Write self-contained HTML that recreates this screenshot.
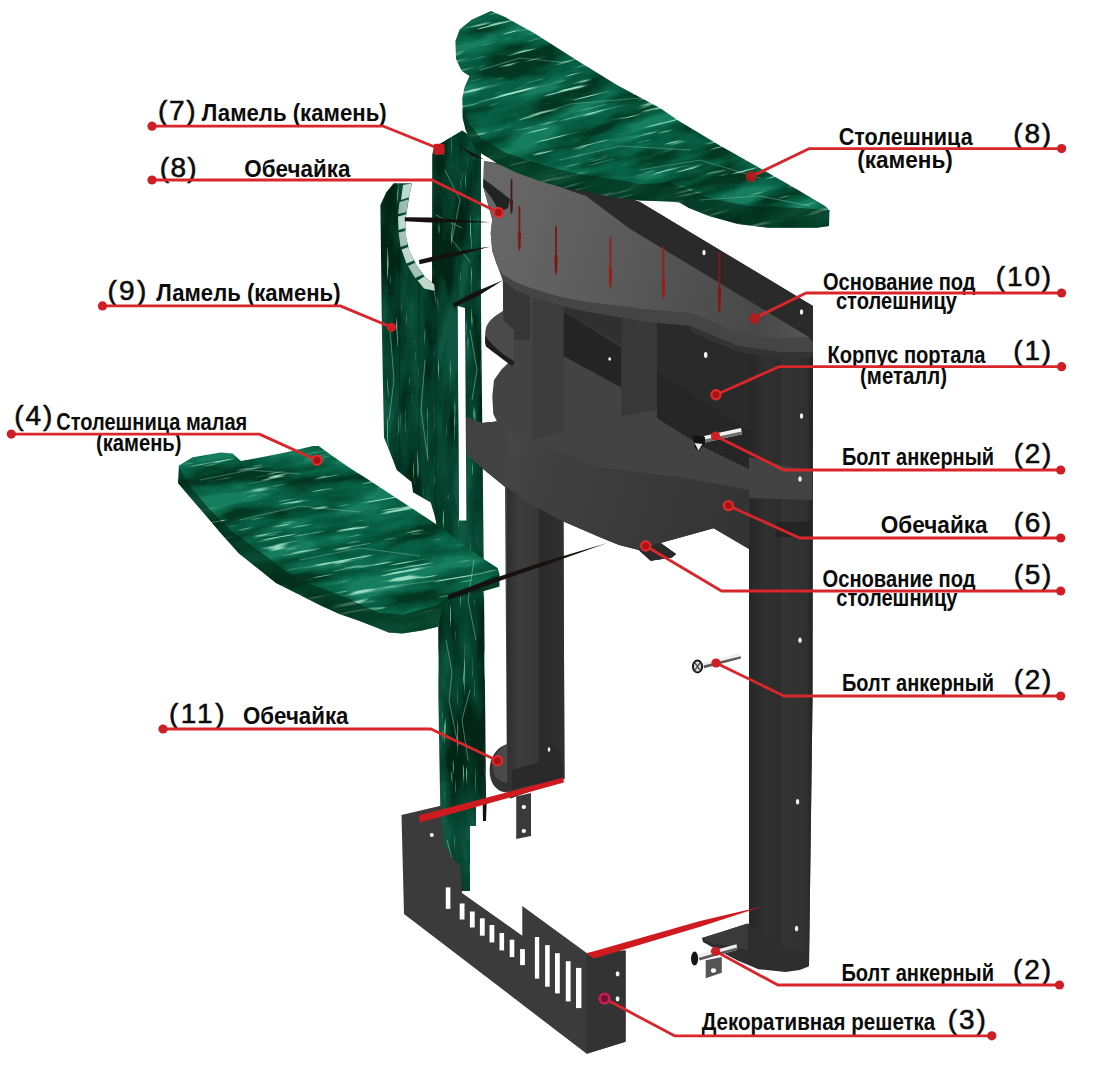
<!DOCTYPE html>
<html lang="ru"><head><meta charset="utf-8"><title>Схема портала</title>
<style>
html,body{margin:0;padding:0;background:#fff;}
body{width:1117px;height:1080px;overflow:hidden;font-family:"Liberation Sans","DejaVu Sans",sans-serif;}
svg{display:block;position:absolute;left:0;top:0}
text{font-family:"Liberation Sans","DejaVu Sans",sans-serif;fill:#0b0b0b}
.lb{font-weight:bold;font-size:24px}
.nm{font-size:28px;stroke:#0b0b0b;stroke-width:0.55px}
#leaders path{fill:none;stroke:#d9262b;stroke-width:2.8;stroke-linejoin:round;stroke-linecap:round}
#leaders .dot{fill:#cf1f25}
</style></head><body>
<svg width="1117" height="1080" viewBox="0 0 1117 1080">
<rect width="1117" height="1080" fill="#fff"/>

<defs>
<filter id="mH" x="0" y="0" width="100%" height="100%" color-interpolation-filters="sRGB">
  <feTurbulence type="fractalNoise" baseFrequency="0.012 0.045" numOctaves="4" seed="11" result="n"/>
  <feColorMatrix in="n" type="matrix" values="2.6 0 0 0 -0.8  2.6 0 0 0 -0.8  2.6 0 0 0 -0.8  0 0 0 0 1" result="g"/>
  <feComponentTransfer in="g" result="base">
    <feFuncR type="table" tableValues="0.013 0.018 0.023 0.027 0.036 0.054 0.090"/>
    <feFuncG type="table" tableValues="0.216 0.270 0.324 0.365 0.396 0.432 0.495"/>
    <feFuncB type="table" tableValues="0.135 0.180 0.221 0.257 0.279 0.310 0.369"/>
  </feComponentTransfer>
  <feTurbulence type="fractalNoise" baseFrequency="0.016 0.32" numOctaves="3" seed="14" result="n2"/>
  <feColorMatrix in="n2" type="matrix" values="0 0 0 0 0.6  0 0 0 0 0.87  0 0 0 0 0.77  9 0 0 0 -5.9" result="st"/>
  <feMerge result="m"><feMergeNode in="base"/><feMergeNode in="st"/></feMerge>
  <feComposite in="m" in2="SourceGraphic" operator="in"/>
</filter>
<filter id="mV" x="0" y="0" width="100%" height="100%" color-interpolation-filters="sRGB">
  <feTurbulence type="fractalNoise" baseFrequency="0.04 0.010" numOctaves="4" seed="5" result="n"/>
  <feColorMatrix in="n" type="matrix" values="2.6 0 0 0 -0.8  2.6 0 0 0 -0.8  2.6 0 0 0 -0.8  0 0 0 0 1" result="g"/>
  <feComponentTransfer in="g" result="base">
    <feFuncR type="table" tableValues="0.009 0.012 0.015 0.019 0.025 0.037 0.062"/>
    <feFuncG type="table" tableValues="0.149 0.186 0.223 0.251 0.273 0.298 0.341"/>
    <feFuncB type="table" tableValues="0.093 0.124 0.152 0.177 0.192 0.214 0.254"/>
  </feComponentTransfer>
  <feTurbulence type="fractalNoise" baseFrequency="0.30 0.02" numOctaves="3" seed="8" result="n2"/>
  <feColorMatrix in="n2" type="matrix" values="0 0 0 0 0.35  0 0 0 0 0.7  0 0 0 0 0.56  8 0 0 0 -5.6" result="st"/>
  <feMerge result="m"><feMergeNode in="base"/><feMergeNode in="st"/></feMerge>
  <feComposite in="m" in2="SourceGraphic" operator="in"/>
</filter>
<linearGradient id="gBand" gradientUnits="userSpaceOnUse" x1="484" y1="230" x2="810" y2="330">
  <stop offset="0" stop-color="#676767"/><stop offset="0.25" stop-color="#606060"/><stop offset="0.6" stop-color="#525252"/><stop offset="0.85" stop-color="#484848"/><stop offset="1" stop-color="#565656"/>
</linearGradient>
<linearGradient id="gLow" gradientUnits="userSpaceOnUse" x1="466" y1="440" x2="750" y2="520">
  <stop offset="0" stop-color="#4a4a4a"/><stop offset="0.3" stop-color="#404040"/><stop offset="1" stop-color="#333"/>
</linearGradient>
<linearGradient id="gLegL" gradientUnits="userSpaceOnUse" x1="507" y1="0" x2="564" y2="0">
  <stop offset="0" stop-color="#2e2e2e"/><stop offset="0.2" stop-color="#3c3c3c"/><stop offset="0.55" stop-color="#383838"/><stop offset="0.56" stop-color="#2a2a2a"/><stop offset="1" stop-color="#303030"/>
</linearGradient>
<linearGradient id="gLegR" gradientUnits="userSpaceOnUse" x1="748" y1="0" x2="813" y2="0">
  <stop offset="0" stop-color="#262626"/><stop offset="0.3" stop-color="#303030"/><stop offset="0.5" stop-color="#2c2c2c"/><stop offset="0.52" stop-color="#343434"/><stop offset="0.9" stop-color="#303030"/><stop offset="1" stop-color="#222"/>
</linearGradient>
<clipPath id="cSlabTop"><path d="M491,11 L505,17 L534,33 L578,61 L617,85 L660,108 L679,121 L719,145 L758,167 L798,190 L825,206 L829.5,210 L829,226 L817,227.7 L768,227.7 L738,224 L709,216 L689,208 L679.4,202.5 L670,201.5 L640,200.6 L613.2,197 L584.6,191.6 L568.5,189 L541.6,181.8 L514.8,172 L496.9,163 L480.7,153 L472,143 L465.6,130 L462.7,118 L462.3,98 L464.6,87 L469.5,76 L461.7,71 L456,59 L455.4,41 L459.7,29.5 L471.5,19.7 Z"/></clipPath>
<clipPath id="cSlabSmall"><path d="M178.9,465.6 L192.8,457.2 L220.6,452.6 L232.6,453.5 L240.9,460.9 L257.6,458.1 L285.4,452.6 L313.1,446.1 L318.7,446.1 L331.7,455.4 L350.2,468.3 L365,477.6 L435.6,523.7 L483.7,558.9 L497.6,568 L499.4,573.7 L499.5,586.5 L483.7,591 L448.5,599.6 L441,612 L437.9,626.7 L422,630.6 L402.4,633.6 L388.6,632.6 L378.8,628.6 L359,620.8 L339.4,613.9 L319.7,605 L300,595 L276,583 L257.6,568.3 L239,553.5 L220.6,533 L202,511 L189,496 L178,483 Z"/></clipPath>
<clipPath id="cLam7"><path d="M432.2,155 L434,147.5 L447.8,139 L462.2,130.5 L481,143 L481,308 L483.3,520 L486,790 L486,802 L476,802 L476,826 L470,826 L470,891 L440.4,891 L440.4,815 L438.4,700 L438,520 L432,300 Z"/></clipPath>
<clipPath id="cLam9"><path d="M380.4,205 L386.3,192.2 L393.7,183.3 L412,183.3 L409,198 L405.5,219 L405.5,234 L409,250 L416.5,265 L425,277 L434.5,284.5 L435.5,302.2 L457.4,308 L458.9,520.4 L440,530 L436.7,526.3 L435.2,517.4 L430.7,502.6 L413,492.2 L411.5,481.9 L396.7,470 L392.2,458 L384,437.4 L381.9,330 Z"/></clipPath>
</defs>

<g id="body">
<!-- silhouette -->
<path d="M484,161 L560,172 L640,202 L803,300 L813,306 L812.5,700 L809,966 L749,940 L749,549 L713.6,528.3 L660.5,543 L676,554 L672,557.5 L650.6,560.8 L638.8,550 L619,545 L599.4,537 L563.5,521.4 L564.5,778.8 L510.3,798.5 L507,790 L505,486.7 L483.3,469 L466.6,455 L466,417 L482.2,423 L497,421.5 L493.3,414 L492.3,396.3 L494,380 L501.5,369.6 L510,361 L485.2,343 L486,328 L503,311 L503,290 L502.6,274.4 L496.7,264 L492.2,250.7 L490.7,233 L492.2,219.6 L483.3,187 Z" fill="#434343"/>
<!-- rib 1 and dark zone right below band -->
<path d="M503,274 L530,287 L530,340 L504.4,340 Z" fill="#363636"/>
<!-- rib 2 -->
<path d="M532.6,288 L563.7,300 L563.7,430.4 L532.6,440.7 Z" fill="#3c3c3c"/>
<!-- area above recess 1 -->
<path d="M563.7,300 L622,309 L622,346 L563.7,311.9 Z" fill="#303030"/>
<!-- recess 1 -->
<path d="M563.7,311.9 L621.5,347 L621.5,387.4 L563.7,356.3 Z" fill="#242424"/>
<!-- rib 3 -->
<path d="M621.5,309 L657,312 L657,410 L621.5,416 Z" fill="#383838"/>
<!-- recess 2 (right big dark) -->
<path d="M657,312 L751,340 L751,470 L700,445 L657,418 Z" fill="#2a2a2a"/>
<path d="M657,372 L751,432 L751,470 L700,445 L657,418 Z" fill="#262626"/>
<!-- right column -->
<path d="M750.6,340 L813,342 L812.5,700 L809,966 L749,940 L749,549 Z" fill="url(#gLegR)"/>
<!-- dark back strip along the top -->
<path d="M520,170 L560,172 L640,202 L803,300 L813,306 L813,342 L807,336 L630,229 L586,196 L565,189 Z" fill="#2a2a2a"/>
<!-- upper band -->
<path d="M484,161 L520,170 L565,189 L586,196 L630,229 L807,336 L809,337 L778,338.5 L738.5,334 L699,316 L690,313 L640,309 L630,307 L588.5,302.6 L558.9,296.7 L529.3,287.8 L514.4,281.9 L502.6,274.4 L496.7,264 L492.2,250.7 L490.7,233 L492.2,219.6 L483.3,187 Z" fill="url(#gBand)"/>
<!-- groove -->
<path d="M483.3,178.9 L490.7,184 L510,198.9 L508,208 L500,212 L492.2,199 L483.3,187 Z" fill="#1f2622"/>
<!-- band underside -->
<path d="M496.7,264 L502.6,274.4 L514.4,281.9 L529.3,287.8 L558.9,296.7 L588.5,302.6 L630,307 L640,309 L690,313 L699,316 L738.5,334 L778,338.5 L809,337 L813,342 L813,352 L778,352 L738,346 L699,330 L690,326 L640,321 L630,319 L588.5,312 L558.9,305.5 L529.3,296 L514.4,289.5 L503,281 Z" fill="#454545"/>
<path d="M690,326 L699,330 L738,346 L778,352 L813,352 L813,358 L778,358 L738,352 L699,336 L690,331 Z" fill="#333"/>
<!-- shelf -->
<path d="M503,311 C494,316 487,322 485.8,329 C485,334 485.2,339 485.6,341 C494,349 505,356 514,361 L514,330 L503,320 Z" fill="#4a4a4a"/>
<path d="M485.3,336 C485,341 485.2,344 486,346.5 C494,353 504,360 512,366 L515,362 C505,356 494,348 485.3,336 Z" fill="#1c1c1c"/>
<!-- bracket near right column -->
<path d="M749,457 L785,466 L812,471 L812,500 L749,498 Z" fill="#434343"/>
<path d="M776,522 L812,522 L812,537 L776,537 Z" fill="#242424"/>
<!-- lower band -->
<path d="M466,417 L482.2,423 L497,421.5 L531,441.7 L598,467 L680,477 L749,490 L749,549 L713.6,528.3 L660.5,543 L676,554 L672,557.5 L650.6,560.8 L638.8,550 L619,545 L599.4,537 L563.5,521.4 L534.5,506.4 L505,486.7 L483.3,469 L466.6,455 Z" fill="url(#gLow)"/>
<!-- tab -->
<path d="M660.5,543 L676,554 L672,557.5 L650.6,560.8 L638.8,550 Z" fill="#2a2a2a"/>
<!-- left leg -->
<path d="M507,487 L534.5,506.4 L563.5,521.4 L564.5,778.8 L510.3,798.5 L507,790 Z" fill="url(#gLegL)"/>
<!-- holes -->
<g fill="#f4f4f4">
<ellipse cx="609.7" cy="359" rx="1.4" ry="1.8"/>
<ellipse cx="705.7" cy="355" rx="1.8" ry="3"/>
<ellipse cx="704" cy="252.5" rx="1.6" ry="2.8"/>
<ellipse cx="801.5" cy="312" rx="1.7" ry="2.8"/>
<ellipse cx="801.5" cy="416" rx="1.7" ry="2.8"/>
<ellipse cx="800" cy="479" rx="1.7" ry="2.8"/>
<ellipse cx="800" cy="640.3" rx="1.7" ry="2.8"/>
<ellipse cx="797.6" cy="801.7" rx="1.7" ry="2.8"/>
<ellipse cx="796.6" cy="928.5" rx="1.7" ry="2.8"/>
</g>
<!-- pins -->
<g fill="none" stroke-linecap="round">
<path d="M511.5,180 V200.3" stroke="#4a1a14" stroke-width="1.8"/>
<path d="M509.9,200.3 L513.1,200.3 L512.7,210.0 L511.5,215 L510.3,210.0 Z" fill="#4a1a14" stroke="none"/>
<path d="M519.4,207 V233.1" stroke="#7a1a12" stroke-width="1.8"/>
<path d="M517.8,233.1 L521.0,233.1 L520.6,247.0 L519.4,252 L518.1999999999999,247.0 Z" fill="#7a1a12" stroke="none"/>
<path d="M556,227 V255.4" stroke="#7a1712" stroke-width="1.8"/>
<path d="M554.4,255.4 L557.6,255.4 L557.2,271.0 L556,276 L554.8,271.0 Z" fill="#7a1712" stroke="none"/>
<path d="M610.4,238 V268.2" stroke="#9c1a18" stroke-width="1.8"/>
<path d="M608.8,268.2 L612.0,268.2 L611.6,285.0 L610.4,290 L609.1999999999999,285.0 Z" fill="#9c1a18" stroke="none"/>
<path d="M663.4,247.5 V278.2" stroke="#a01a18" stroke-width="1.8"/>
<path d="M661.8,278.2 L665.0,278.2 L664.6,295.5 L663.4,300.5 L662.1999999999999,295.5 Z" fill="#a01a18" stroke="none"/>
<path d="M719.4,253 V288.1" stroke="#8a1214" stroke-width="1.8"/>
<path d="M717.8,288.1 L721.0,288.1 L720.6,308.5 L719.4,313.5 L718.1999999999999,308.5 Z" fill="#8a1214" stroke="none"/>
</g>
</g>
<g id="green">
<g clip-path="url(#cLam7)">
  <rect x="425" y="125" width="70" height="775" fill="#0d5236" filter="url(#mV)"/>
</g>
<path d="M457.6,306 L465,308 L466.4,520.4 L459,520.4 Z" fill="#fff"/>
<g clip-path="url(#cLam9)">
  <rect x="375" y="175" width="90" height="360" fill="#0d5236" filter="url(#mV)"/>
  <path d="M399.6,235 V470 M419,278 V495 M435.5,300 V520" stroke="#03261a" stroke-width="1.3" opacity="0.55" fill="none"/>
  <g fill="#d3e9df" opacity="0.9">
<path d="M403,185 L412,183.3 L409.5,197 L401,200 Z"/>
<path d="M399.5,202 L408.5,199.5 L406.5,212 L398,214 Z" opacity="0.8"/>
<path d="M398,216.5 L406,214.5 L405.5,228 L398.5,230 Z"/>
<path d="M398.5,232.5 L405.5,231 L407.5,244.5 L400.5,247 Z" opacity="0.85"/>
<path d="M401.5,249.5 L408.5,247 L414,260.5 L406.5,263.5 Z"/>
<path d="M408,266 L415.5,262.5 L423,274.5 L415,278 Z" opacity="0.85"/>
<path d="M417.5,280.5 L424.5,276.5 L434.5,284.5 L435,291 L424,288.5 Z"/>
<path d="M434.5,292 L444,292.5 L444,302 L435.4,302.2 Z" fill="#f2f8f5"/>
</g>
</g>
<g clip-path="url(#cSlabTop)">
  <rect x="380" y="-60" width="520" height="420" fill="#167a50" filter="url(#mH)" transform="rotate(-14 640 120)"/>
  <path d="M462.6,110 L470,125 L480.7,138 L505.8,153 L541.6,164.8 L577.4,173.7 L613.2,179 L640,184 L670,182.7 L679,186.4 L709,198 L748,206 L798,208 L829.5,210 L829,230 L460,230 Z" fill="#032a18" opacity="0.62"/>
</g>
<g clip-path="url(#cSlabSmall)">
  <rect x="120" y="380" width="440" height="320" fill="#167a50" filter="url(#mH)" transform="rotate(-10 340 540)"/>
  <path d="M178.9,467 L189,485 L207.6,507.2 L229.8,529.4 L257.6,549.8 L300,581.4 L319.7,587.3 L349.2,599 L378.8,612.9 L402.4,614.8 L437.9,605 L448,597 L499.4,573.7 L499.5,640 L170,640 Z" fill="#032a18" opacity="0.62"/>
</g>
</g>
<g id="veins" fill="none" stroke-linecap="round">
<g stroke="#bfe6d4" stroke-width="0.9" opacity="0.45">
<path d="M446,640 L452,672 L449,700 L458,745"/>
<path d="M470,690 L462,720 L468,760"/>
<path d="M474,560 L468,600 L476,640"/>
<path d="M470,330 L477,370 L472,400"/>
<path d="M390,330 L394,380 L389,420"/>
<path d="M425,360 L421,410 L428,460"/>
<path d="M445,170 L460,200 L452,240 L470,262"/>
<path d="M436,215 L462,228"/>
<path d="M447,840 L455,870"/>
</g>
<g stroke="#a8dcc6" stroke-width="1.2" opacity="0.33">
<path d="M480,70 L520,58 L560,62"/>
<path d="M520,120 L570,104 L640,98"/>
<path d="M560,160 L620,146 L690,150"/>
<path d="M640,170 L700,160 L760,178"/>
<path d="M700,200 L760,196 L810,206"/>
<path d="M200,480 L250,470 L300,474"/>
<path d="M240,520 L300,506 L360,512"/>
<path d="M300,560 L360,548 L420,556"/>
<path d="M350,596 L410,584 L470,576"/>
</g>
</g>
<g id="bandOver">
<path d="M466,417 L482.2,423 L497,421.5 L505,430 L505,486.7 L483.3,469 L466.6,455 Z" fill="#424242"/>
</g>
<g id="feet">
<!-- left foot cylinder -->
<path d="M507.3,744 C497,747 489.6,757 489.6,770 C489.6,783 496,792 507.3,792.6 Z" fill="#333"/>
<path d="M507.3,744 C499,748 493,757 493,768 C493,776 497,781 507.3,783 Z" fill="#4a4a4a"/>
<!-- left leg channel interior -->
<path d="M540,738 L562,752 L563.5,777 L512,790 L512,770 L540,762 Z" fill="#2a2a2a"/>
<ellipse cx="549" cy="749.5" rx="1.3" ry="2.2" fill="#eee"/>
<!-- tab under left leg -->
<path d="M516.2,796.5 L531,793 L531,836 L516.2,838.9 Z" fill="#3a3a3a"/>
<ellipse cx="523.8" cy="807" rx="2.2" ry="2" fill="#fff"/>
<ellipse cx="523.8" cy="831" rx="2.2" ry="2" fill="#fff"/>
<!-- right foot base -->
<path d="M747.7,923.6 L722.7,931.6 L702,938 L703,942 L712,947 L737,960.3 L758.5,969.2 L785.3,972 L799.7,970 L808.6,966.5 L808.6,954.9 L780,945 Z" fill="#2e2e2e"/>
<path d="M747.7,923.6 L722.7,931.6 L702,938 L712,943 L748,950 Z" fill="#3a3a3a"/>
<!-- bracket -->
<path d="M705.7,960.3 L721.8,957 L721.8,972.8 L705.7,978.2 Z" fill="#555"/>
<ellipse cx="713.5" cy="970.5" rx="2.6" ry="2.3" fill="#fff"/>
</g>
<g id="grille">
<path d="M401.5,815 L441.7,805.5 L443,844 L452,858 L460.5,866 L462,893 L522.3,935.7 L522.3,906 L586.7,953 L625.6,950.5 L625.6,1041.7 L586.7,1053.8 L404,914 Z" fill="#3b3b3b"/>
<path d="M586.7,953 L625.6,950.5 L625.6,1041.7 L586.7,1053.8 Z" fill="#333"/>
<g fill="#fff">
<rect x="445.8" y="887.4" width="4.6" height="21.5"/>
<rect x="459.7" y="903.5" width="4.8" height="16"/>
<rect x="469.9" y="911.5" width="4.8" height="16"/>
<rect x="479.9" y="918.3" width="4.8" height="17.4"/>
<rect x="489.5" y="925" width="4.8" height="17.4"/>
<rect x="499.5" y="933" width="4.6" height="17.4"/>
<rect x="509.7" y="939.7" width="4.6" height="17.4"/>
<rect x="520.1" y="949.1" width="4.8" height="16"/>
<rect x="534.9" y="937" width="4.3" height="41.6"/>
<rect x="545.1" y="945.1" width="4.6" height="41.6"/>
<rect x="555" y="953.2" width="4.8" height="40.2"/>
<rect x="565.8" y="961.2" width="4.8" height="40.2"/>
<rect x="576" y="967.9" width="5.4" height="40.2"/>
<ellipse cx="431.8" cy="835" rx="2" ry="2"/>
<ellipse cx="617.6" cy="973.8" rx="1.9" ry="2.6"/>
<ellipse cx="617.6" cy="998.8" rx="1.9" ry="2.6"/>
</g>
</g>
<g id="bolts">
<!-- bolt 1 -->
<path d="M704,436 L741,428 L742,434.2 L705,442.5 Z" fill="#f2f2f2"/>
<path d="M704.5,439.6 L741.6,431.6 L742,434.2 L705,442.5 Z" fill="#6e6e6e"/>
<path d="M692.6,435 L705,437 L705,443 L699,451 L695,448 Z" fill="#111"/>
<path d="M694.5,443 L698.5,450.5 L702.5,444 Z" fill="#e6e6e6"/>
<!-- bolt 2 -->
<path d="M703,662.5 L740,653 L741,658.6 L704,668.2 Z" fill="#efefef"/>
<path d="M703.5,665.6 L740.6,656.2 L741,658.6 L704,668.2 Z" fill="#5a5a5a"/>
<ellipse cx="697.5" cy="666.5" rx="4.6" ry="6" fill="#d8d8d8" stroke="#1a1a1a" stroke-width="2"/>
<path d="M695,663 L700,670 M700,663 L695,670" stroke="#333" stroke-width="1.2"/>
<!-- bolt 3 -->
<path d="M698.5,954.6 L736.5,944.2 L737.4,949.8 L699.5,960.4 Z" fill="#efefef"/>
<path d="M699,957.8 L737,947.4 L737.4,949.8 L699.5,960.4 Z" fill="#5a5a5a"/>
<ellipse cx="694.6" cy="958.6" rx="3.6" ry="7" fill="#151515"/>
</g>
<g id="spikes" fill="#15110f">
<path d="M404.8,217.3 L430,217.6 L490.4,222.3 L430,222.6 L404.8,221.3 Z"/>
<path d="M418.9,260 L450,252.5 L490.4,246.6 L452,257 L419.6,264.2 Z"/>
<path d="M452.8,303.5 L475,292 L503,280.2 L478,296 L454,307.5 Z"/>
<path d="M460.4,146.3 L484,159.6 L472,156 Z"/>
<path d="M447.9,595 L490,579.5 L540,563 L607.3,543 L541,566.5 L491,584 L448.6,599.8 Z"/>
<path d="M482.7,802 L486.7,802 L486,821 L483,821 Z"/>
</g>
<g id="redbars" fill="#cf1a20">
<path d="M418.7,815.5 L563.5,777.5 L563.8,782.5 L420,822.5 Z"/>
<path d="M586,953.5 L700,921 L763,906.2 L701,926.5 L594,958.5 Z"/>
</g>

<g id="labels">
<text class="nm" x="158.1" y="120.3" textLength="37.4" lengthAdjust="spacing">(7)</text>
<text class="lb" x="201.7" y="120.9" textLength="185.0" lengthAdjust="spacingAndGlyphs">Ламель (камень)</text>
<text class="nm" x="159.8" y="176.5" textLength="36.9" lengthAdjust="spacing">(8)</text>
<text class="lb" x="244.3" y="176.5" textLength="106.1" lengthAdjust="spacingAndGlyphs">Обечайка</text>
<text class="nm" x="107.5" y="299.5" textLength="38.8" lengthAdjust="spacing">(9)</text>
<text class="lb" x="156.2" y="300.6" textLength="184.3" lengthAdjust="spacingAndGlyphs">Ламель (камень)</text>
<text class="nm" x="14.3" y="425.4" textLength="38.0" lengthAdjust="spacing">(4)</text>
<text class="lb" x="56.2" y="430.0" textLength="191.1" lengthAdjust="spacingAndGlyphs">Столешница малая</text>
<text class="lb" x="96.0" y="451.0" textLength="85.5" lengthAdjust="spacingAndGlyphs">(камень)</text>
<text class="nm" x="168.9" y="723.0" textLength="55.6" lengthAdjust="spacing">(11)</text>
<text class="lb" x="243.0" y="724.0" textLength="105.4" lengthAdjust="spacingAndGlyphs">Обечайка</text>
<text class="lb" x="838.7" y="145.4" textLength="134.0" lengthAdjust="spacingAndGlyphs">Столешница</text>
<text class="lb" x="857.2" y="168.1" textLength="95.6" lengthAdjust="spacingAndGlyphs">(камень)</text>
<text class="nm" x="1013.3" y="142.6" textLength="37.9" lengthAdjust="spacing">(8)</text>
<text class="lb" x="823.0" y="289.6" textLength="152.5" lengthAdjust="spacingAndGlyphs">Основание под</text>
<text class="lb" x="835.9" y="308.6" textLength="121.1" lengthAdjust="spacingAndGlyphs">столешницу</text>
<text class="nm" x="995.7" y="285.9" textLength="55.5" lengthAdjust="spacing">(10)</text>
<text class="lb" x="827.4" y="362.5" textLength="158.0" lengthAdjust="spacingAndGlyphs">Корпус портала</text>
<text class="lb" x="860.0" y="383.8" textLength="87.0" lengthAdjust="spacingAndGlyphs">(металл)</text>
<text class="nm" x="1013.3" y="359.6" textLength="37.9" lengthAdjust="spacing">(1)</text>
<text class="lb" x="842.0" y="464.6" textLength="152.0" lengthAdjust="spacingAndGlyphs">Болт анкерный</text>
<text class="nm" x="1013.8" y="463.1" textLength="37.5" lengthAdjust="spacing">(2)</text>
<text class="lb" x="880.8" y="532.9" textLength="106.8" lengthAdjust="spacingAndGlyphs">Обечайка</text>
<text class="nm" x="1013.8" y="532.0" textLength="37.5" lengthAdjust="spacing">(6)</text>
<text class="lb" x="822.5" y="586.6" textLength="153.1" lengthAdjust="spacingAndGlyphs">Основание под</text>
<text class="lb" x="836.3" y="605.8" textLength="121.2" lengthAdjust="spacingAndGlyphs">столешницу</text>
<text class="nm" x="1013.8" y="584.3" textLength="37.5" lengthAdjust="spacing">(5)</text>
<text class="lb" x="842.0" y="690.8" textLength="152.0" lengthAdjust="spacingAndGlyphs">Болт анкерный</text>
<text class="nm" x="1013.8" y="688.5" textLength="37.5" lengthAdjust="spacing">(2)</text>
<text class="lb" x="841.4" y="980.6" textLength="152.6" lengthAdjust="spacingAndGlyphs">Болт анкерный</text>
<text class="nm" x="1013.0" y="978.7" textLength="38.2" lengthAdjust="spacing">(2)</text>
<text class="lb" x="701.7" y="1030.3" textLength="233.6" lengthAdjust="spacingAndGlyphs">Декоративная решетка</text>
<text class="nm" x="947.7" y="1028.8" textLength="38.2" lengthAdjust="spacing">(3)</text>
</g>
<g id="leaders">
<path d="M152,126.2 H383.5 L438,148.2" />
<circle cx="152" cy="126.2" r="4.6" class="dot"/>
<rect x="433.5" y="143.7" width="11" height="11" rx="2.5" fill="#c41c1f"/>
<path d="M152,180 H432 L498.5,212.5" />
<circle cx="152" cy="180" r="4.6" class="dot"/>
<circle cx="498.5" cy="212.5" r="4.6" fill="#a81416" stroke="#e12a2c" stroke-width="2.2"/>
<path d="M102.5,305.9 H340.3 L391.5,327.3" />
<circle cx="102.5" cy="305.9" r="4.6" class="dot"/>
<circle cx="391.5" cy="327.3" r="4.6" class="dot"/>
<path d="M11.3,434.1 H259.4 L317,460.2" />
<circle cx="11.3" cy="434.1" r="4.6" class="dot"/>
<circle cx="317" cy="460.2" r="4.6" fill="#a81416" stroke="#e12a2c" stroke-width="2.2"/>
<path d="M163,729 H431 L497.5,760.8" />
<circle cx="163" cy="729" r="4.6" class="dot"/>
<circle cx="497.5" cy="760.8" r="4.6" fill="#a81416" stroke="#e12a2c" stroke-width="2.2"/>
<path d="M1061.6,148.6 H809.4 L751.3,176.5" />
<circle cx="1061.6" cy="148.6" r="4.6" class="dot"/>
<circle cx="751.3" cy="176.5" r="5.6" fill="#b01c1c" opacity="0.9"/>
<path d="M1061.6,293 H806 L754.6,318.3" />
<circle cx="1061.6" cy="293" r="4.6" class="dot"/>
<circle cx="754.6" cy="318.3" r="5.6" fill="#b01c1c" opacity="0.9"/>
<path d="M1061.6,366.7 H779 L716,394.7" />
<circle cx="1061.6" cy="366.7" r="4.6" class="dot"/>
<circle cx="716" cy="394.7" r="4.6" fill="#a81416" stroke="#e12a2c" stroke-width="2.2"/>
<path d="M1060.7,470 H784 L715.5,436" />
<circle cx="1060.7" cy="470" r="4.6" class="dot"/>
<circle cx="715.5" cy="436" r="4.6" class="dot"/>
<path d="M1060.7,538 H799.7 L728.4,505.6" />
<circle cx="1060.7" cy="538" r="4.6" class="dot"/>
<circle cx="728.4" cy="505.6" r="4.6" fill="#a81416" stroke="#e12a2c" stroke-width="2.2"/>
<path d="M1060.7,591 H721.5 L645.7,546" />
<circle cx="1060.7" cy="591" r="4.6" class="dot"/>
<circle cx="645.7" cy="546" r="4.6" fill="#a81416" stroke="#e12a2c" stroke-width="2.2"/>
<path d="M1060.7,696 H784 L716,663" />
<circle cx="1060.7" cy="696" r="4.6" class="dot"/>
<circle cx="716" cy="663" r="4.6" class="dot"/>
<path d="M1059.5,985 H777.8 L715.5,951.3" />
<circle cx="1059.5" cy="985" r="4.6" class="dot"/>
<circle cx="715.5" cy="951.3" r="4.6" class="dot"/>
<path d="M991.8,1035.8 H674.5 L604.5,998.6" />
<circle cx="991.8" cy="1035.8" r="4.6" class="dot"/>
<circle cx="604.5" cy="998.6" r="4.8" fill="#7a1030" stroke="#c41f58" stroke-width="2.6"/>
</g>
</svg>
</body></html>
